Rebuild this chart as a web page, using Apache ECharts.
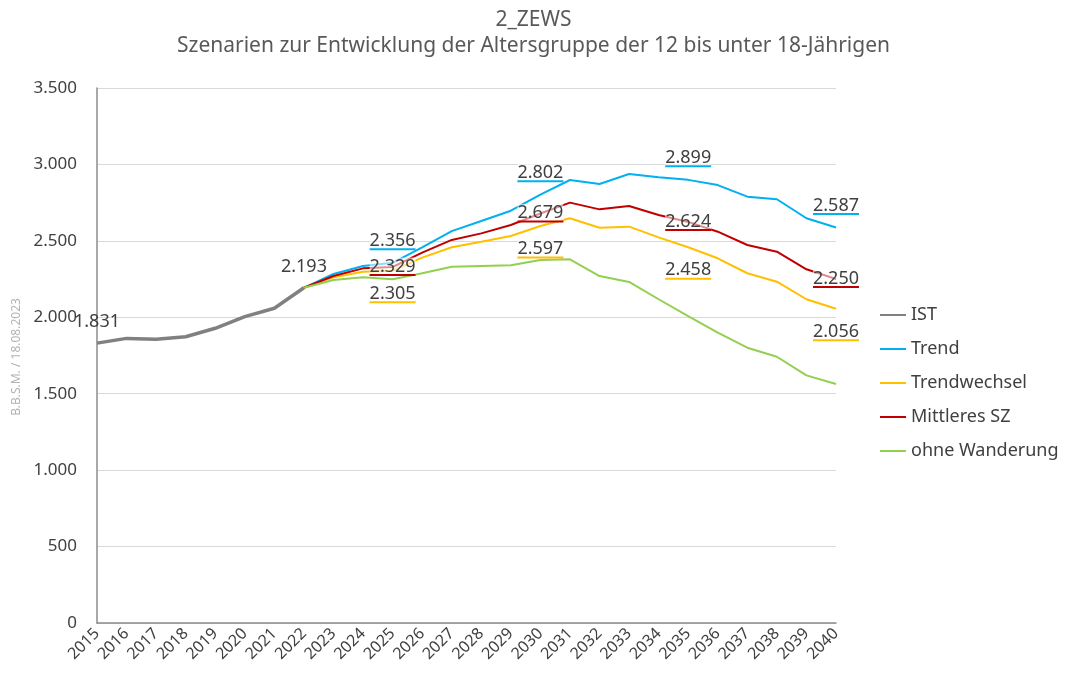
<!DOCTYPE html>
<html>
<head>
<meta charset="utf-8">
<script src="https://cdn.jsdelivr.net/npm/echarts@6/dist/echarts.min.js"></script>
<style>
    html, body { margin: 0; padding: 0; background: #fff; }
    #chart { width: 1067px; height: 679px; }
</style>
</head>
<body>
<div id="chart"></div>
<script>
var years = ['2015', '2016', '2017', '2018', '2019', '2020', '2021', '2022', '2023', '2024', '2025', '2026', '2027',
    '2028', '2029', '2030', '2031', '2032', '2033', '2034', '2035', '2036', '2037', '2038', '2039', '2040'];

var ist = [1831, 1862, 1856, 1873, 1928, 2004, 2059, 2193];
var trend = [null, null, null, null, null, null, null,
    2193, 2283, 2335, 2356, 2458, 2564, 2630, 2697, 2802, 2898, 2872, 2937, 2916, 2899, 2865, 2789, 2772, 2648, 2587];
var trendwechsel = [null, null, null, null, null, null, null,
    2193, 2262, 2298, 2305, 2390, 2458, 2494, 2532, 2597, 2648, 2586, 2593, 2523, 2458, 2386, 2288, 2233, 2118, 2056];
var mittleres = [null, null, null, null, null, null, null,
    2193, 2270, 2320, 2329, 2423, 2506, 2549, 2604, 2679, 2750, 2706, 2728, 2669, 2624, 2560, 2473, 2429, 2314, 2250];
var ohneWanderung = [null, null, null, null, null, null, null,
    2193, 2244, 2262, 2249, 2288, 2331, 2336, 2340, 2375, 2379, 2270, 2231, 2118, 2008, 1899, 1801, 1742, 1620, 1564];

var istLabelYears = ['2015', '2022'];
var scenarioLabelYears = ['2025', '2030', '2035', '2040'];

var yTicks = [0, 500, 1000, 1500, 2000, 2500, 3000, 3500];

var font = 'Noto Sans';

// 1831 -> "1.831"
function fmt(v) {
    var s = String(Math.round(v));
    return s.replace(/\B(?=(\d{3})+(?!\d))/g, '.');
}

function withLabels(values, labelYears) {
    return values.map(function (v, i) {
        if (v != null && labelYears.indexOf(years[i]) != -1) {
            return { value: v, label: { show: true } };
        }
        return v;
    });
}

function scenario(name, values, color, labelYears, position, distance, offset) {
    return {
        name: name,
        type: 'line',
        data: withLabels(values, labelYears),
        showSymbol: true,
        symbol: 'circle',
        symbolSize: 0,
        lineStyle: { color: color, width: 2 },
        itemStyle: { color: color },
        label: {
            show: false,
            position: position,
            distance: distance,
            offset: offset,
            formatter: function (p) {
                return '{t|' + fmt(p.value) + '}\n{u|}';
            },
            rich: {
                t: {
                    fontFamily: font,
                    fontSize: 18,
                    color: '#404040',
                    lineHeight: 14,
                    backgroundColor: 'rgba(255,255,255,0.55)'
                },
                u: {
                    width: 46,
                    height: 2,
                    lineHeight: 3,
                    backgroundColor: color
                }
            }
        },
        emphasis: { disabled: true },
        animation: false
    };
}

var myChart = echarts.init(document.getElementById('chart'));

myChart.setOption({
    backgroundColor: '#ffffff',
    animation: false,
    title: {
        text: '2_ZEWS',
        subtext: 'Szenarien zur Entwicklung der Altersgruppe der 12 bis unter 18-Jährigen',
        left: 'center',
        top: 5,
        itemGap: 5,
        textStyle: { fontFamily: font, fontSize: 21, fontWeight: 'normal', color: '#595959' },
        subtextStyle: { fontFamily: font, fontSize: 21, color: '#595959' }
    },
    legend: {
        orient: 'vertical',
        left: 875,
        top: 301,
        itemWidth: 26,
        itemHeight: 2,
        itemGap: 16,
        icon: 'rect',
        textStyle: { fontFamily: font, fontSize: 18, color: '#404040' },
        data: ['IST', 'Trend', 'Trendwechsel', 'Mittleres SZ', 'ohne Wanderung']
    },
    grid: {
        left: 97,
        right: 231,
        top: 88,
        bottom: 56,
        containLabel: false
    },
    xAxis: {
        type: 'category',
        data: years,
        boundaryGap: false,
        axisLine: { show: true, lineStyle: { color: '#8c8c8c', width: 1.5 } },
        axisTick: { show: false },
        axisLabel: {
            interval: 0,
            rotate: 45,
            margin: 8,
            fontFamily: font,
            fontSize: 16,
            color: '#404040'
        },
        splitLine: { show: false }
    },
    yAxis: {
        type: 'value',
        min: yTicks[0],
        max: yTicks[yTicks.length - 1],
        interval: 500,
        axisLine: { show: true, lineStyle: { color: '#8c8c8c', width: 1.5 } },
        axisTick: { show: false },
        axisLabel: {
            margin: 20,
            fontFamily: font,
            fontSize: 17,
            color: '#404040',
            formatter: function (v) { return fmt(v); }
        },
        splitLine: { lineStyle: { color: '#d9d9d9', width: 1 } }
    },
    graphic: [
        {
            type: 'text',
            x: 17,
            y: 357,
            rotation: Math.PI / 2,
            style: {
                text: 'B.B.S.M. / 18.08.2023',
                fontFamily: font,
                fontSize: 12,
                fill: '#b3b3b3',
                align: 'center',
                verticalAlign: 'middle'
            }
        }
    ],
    series: [
        {
            name: 'IST',
            type: 'line',
            data: withLabels(ist, istLabelYears),
            showSymbol: true,
            symbol: 'circle',
            symbolSize: 0,
            lineStyle: { color: '#808080', width: 3.5 },
            itemStyle: { color: '#808080' },
            label: {
                show: false,
                position: 'top',
                distance: 12,
                fontFamily: font,
                fontSize: 18,
                color: '#404040',
                formatter: function (p) { return fmt(p.value); }
            },
            emphasis: { disabled: true },
            z: 3
        },
        scenario('Trend', trend, '#00b0f0', scenarioLabelYears, 'top', 12, [0, 0]),
        scenario('Trendwechsel', trendwechsel, '#ffc000', scenarioLabelYears, 'bottom', 16, [0, 0]),
        scenario('Mittleres SZ', mittleres, '#c00000', scenarioLabelYears, 'inside', 0, [0, 1]),
        scenario('ohne Wanderung', ohneWanderung, '#92d050', [], 'top', 5, [0, 0])
    ]
});
</script>
</body>
</html>
